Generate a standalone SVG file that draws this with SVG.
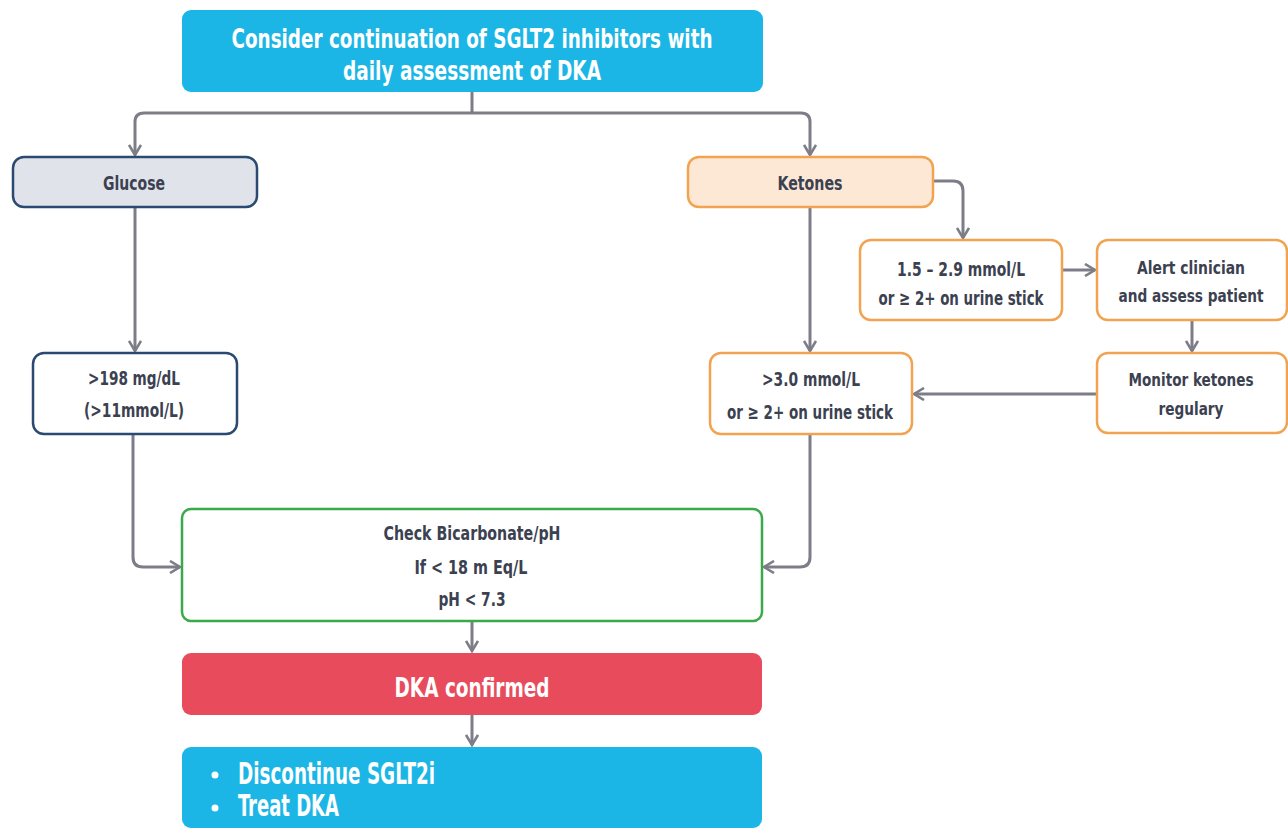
<svg xmlns="http://www.w3.org/2000/svg" width="1288" height="830" viewBox="0 0 1288 830">
<defs>
<style>
text{font-family:"DejaVu Sans Condensed","Liberation Sans Narrow","Liberation Sans",sans-serif;font-weight:bold;text-anchor:middle;}
.dk{fill:#3b4150;font-size:20px;}
.sm{font-size:18px;}
.wh{fill:#ffffff;}
.conn{fill:none;stroke:#7d7d88;stroke-width:3;}
.navy{fill:#ffffff;stroke:#2b4a72;stroke-width:2.5;}
.org{fill:#ffffff;stroke:#f2a352;stroke-width:2.5;}
</style>
<marker id="arr" viewBox="0 0 14 14" refX="12" refY="7" markerWidth="14" markerHeight="14" markerUnits="userSpaceOnUse" orient="auto">
<path d="M2,1 L12,7 L2,13" fill="none" stroke="#7d7d88" stroke-width="2.6"/>
</marker>
</defs>
<rect width="1288" height="830" fill="#ffffff"/>

<g id="connectors">
<path class="conn" d="M472,92 V113"/>
<path class="conn" d="M472,113 H144 Q135,113 135,122 V155" marker-end="url(#arr)"/>
<path class="conn" d="M472,113 H801 Q810,113 810,122 V155" marker-end="url(#arr)"/>
<path class="conn" d="M135,207 V351" marker-end="url(#arr)"/>
<path class="conn" d="M810,207 V351" marker-end="url(#arr)"/>
<path class="conn" d="M933,181 H953 Q963,181 963,191 V238" marker-end="url(#arr)"/>
<path class="conn" d="M1063,270 H1095" marker-end="url(#arr)"/>
<path class="conn" d="M1192,320 V351" marker-end="url(#arr)"/>
<path class="conn" d="M1097,394 H914" marker-end="url(#arr)"/>
<path class="conn" d="M133,434 V557 Q133,567 143,567 H180" marker-end="url(#arr)"/>
<path class="conn" d="M810,434 V557 Q810,567 800,567 H764" marker-end="url(#arr)"/>
<path class="conn" d="M472,621 V651" marker-end="url(#arr)"/>
<path class="conn" d="M472,715 V745" marker-end="url(#arr)"/>
</g>

<g id="start">
<rect x="182" y="10" width="581" height="82" rx="9" fill="#1cb6e6"/>
<text class="wh" x="472" y="48" font-size="27" textLength="481" lengthAdjust="spacingAndGlyphs">Consider continuation of SGLT2 inhibitors with</text>
<text class="wh" x="472" y="80" font-size="27" textLength="258" lengthAdjust="spacingAndGlyphs">daily assessment of DKA</text>
</g>

<g id="glucose">
<rect x="13" y="157" width="244" height="50" rx="11" fill="#e1e3eb" stroke="#2b4a72" stroke-width="2.5"/>
<text class="dk" x="134" y="190" textLength="62" lengthAdjust="spacingAndGlyphs">Glucose</text>
</g>

<g id="ketones">
<rect x="688" y="157" width="245" height="50" rx="11" fill="#fde8d6" stroke="#f2a352" stroke-width="2.5"/>
<text class="dk" x="810" y="190" textLength="65" lengthAdjust="spacingAndGlyphs">Ketones</text>
</g>

<g id="glucose-high">
<rect class="navy" x="33" y="353" width="204" height="81" rx="11"/>
<text class="dk" x="134" y="385" textLength="92" lengthAdjust="spacingAndGlyphs">&gt;198 mg/dL</text>
<text class="dk" x="134" y="417" textLength="100" lengthAdjust="spacingAndGlyphs">(&gt;11mmol/L)</text>
</g>

<g id="ketones-mid">
<rect class="org" x="860" y="240" width="202" height="80" rx="11"/>
<text class="dk" x="961" y="276" textLength="128" lengthAdjust="spacingAndGlyphs">1.5 – 2.9 mmol/L</text>
<text class="dk" x="961" y="305" textLength="165" lengthAdjust="spacingAndGlyphs">or ≥ 2+ on urine stick</text>
</g>

<g id="alert">
<rect class="org" x="1097" y="240" width="190" height="80" rx="11"/>
<text class="dk sm" x="1191" y="274" textLength="108" lengthAdjust="spacingAndGlyphs">Alert clinician</text>
<text class="dk sm" x="1191" y="302" textLength="145" lengthAdjust="spacingAndGlyphs">and assess patient</text>
</g>

<g id="monitor">
<rect class="org" x="1097" y="353" width="190" height="80" rx="11"/>
<text class="dk sm" x="1191" y="386" textLength="125" lengthAdjust="spacingAndGlyphs">Monitor ketones</text>
<text class="dk sm" x="1191" y="415" textLength="65" lengthAdjust="spacingAndGlyphs">regulary</text>
</g>

<g id="ketones-high">
<rect class="org" x="710" y="353" width="202" height="81" rx="11"/>
<text class="dk" x="811" y="386" textLength="98" lengthAdjust="spacingAndGlyphs">&gt;3.0 mmol/L</text>
<text class="dk" x="810" y="419" textLength="166" lengthAdjust="spacingAndGlyphs">or ≥ 2+ on urine stick</text>
</g>

<g id="check">
<rect x="182" y="509" width="580" height="112" rx="9" fill="#ffffff" stroke="#3aa94a" stroke-width="2.5"/>
<text class="dk" x="472" y="540" textLength="177" lengthAdjust="spacingAndGlyphs">Check Bicarbonate/pH</text>
<text class="dk" x="471" y="574" textLength="113" lengthAdjust="spacingAndGlyphs">If &lt; 18 m Eq/L</text>
<text class="dk" x="472" y="606" textLength="67" lengthAdjust="spacingAndGlyphs">pH &lt; 7.3</text>
</g>

<g id="dka">
<rect x="182" y="653" width="580" height="62" rx="9" fill="#e84c5c"/>
<text class="wh" x="472" y="697" font-size="27" textLength="155" lengthAdjust="spacingAndGlyphs">DKA confirmed</text>
</g>

<g id="treat">
<rect x="182" y="747" width="580" height="81" rx="9" fill="#1cb6e6"/>
<circle cx="215" cy="775" r="3.5" fill="#ffffff"/>
<circle cx="215" cy="808" r="3.5" fill="#ffffff"/>
<text class="wh" x="238" y="784" font-size="30" style="text-anchor:start" textLength="197" lengthAdjust="spacingAndGlyphs">Discontinue SGLT2i</text>
<text class="wh" x="238" y="816" font-size="30" style="text-anchor:start" textLength="101" lengthAdjust="spacingAndGlyphs">Treat DKA</text>
</g>
</svg>
